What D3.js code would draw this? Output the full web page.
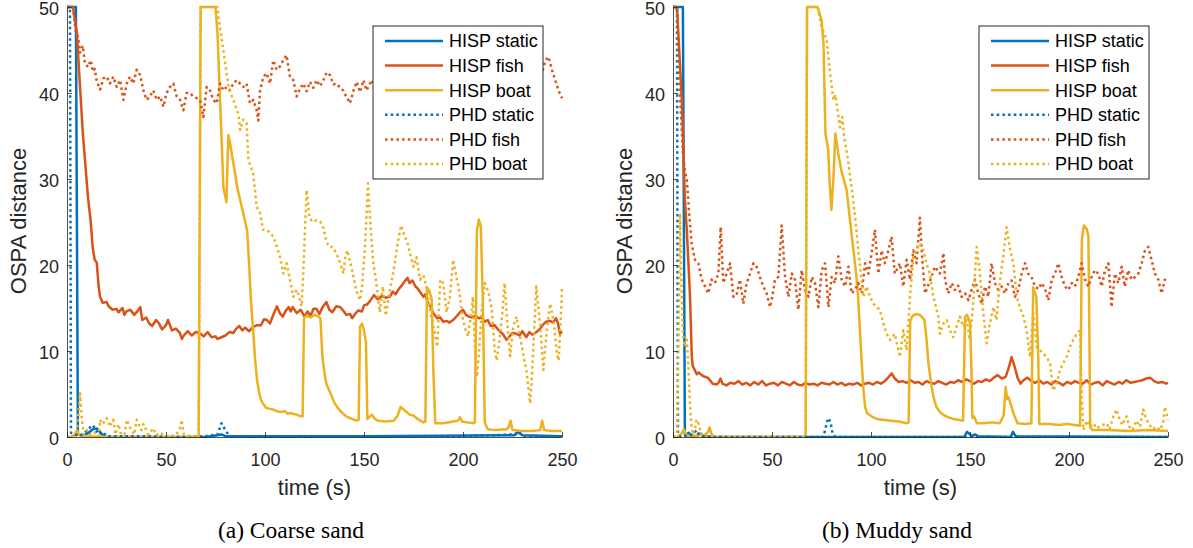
<!DOCTYPE html>
<html>
<head>
<meta charset="utf-8">
<script src="https://cdn.jsdelivr.net/npm/d3@7"></script>
<style>
  body { margin: 0; background: #fff; }
  svg { display: block; }
</style>
</head>
<body>
<script>
// values, each series is [time (s), OSPA distance]
const xTicks = [0, 50, 100, 150, 200, 250];
const yTicks = [0, 10, 20, 30, 40, 50];
const seriesNames = ['HISP static', 'HISP fish', 'HISP boat', 'PHD static', 'PHD fish', 'PHD boat'];
const panelCaptions = ['(a) Coarse sand', '(b) Muddy sand'];
const xLabel = 'time (s)';
const yLabel = 'OSPA distance';

// ---- (a) coarse sand ----
const coarseHispStatic = [[0,50],[4.5,50],[5.5,0.3],[8,0.1],[11,0.5],[13,0.9],[15,1.0],[17,0.5],[19,0],[60,0],[70,0],[76,0.2],[78,0.3],[80,0.1],[150,0.1],[226,0.2],[228,0.6],[230,0.2],[250,0.1]];
const coarseHispFish = [[0,50],[3,50],[5,47],[6.5,41],[8,35.3],[9.5,31],[10.6,27.9],[12,25],[13,22],[14,20.6],[15,20.3],[16,17.5],[16.7,16.3],[18,15.6],[20,15.7],[21,15.2],[23,14.8],[25,14.9],[26,14.5],[28,15.0],[29,14.2],[30,14.6],[32,14.8],[34,14.2],[35.5,14.6],[37,15.1],[38,13.6],[40,13.9],[41.5,13.2],[43,12.9],[45,13.6],[46.5,13.2],[48,12.5],[50,13.0],[51,13.6],[53,12.4],[55,12.6],[57,12.1],[58,11.4],[59,11.8],[61,12.3],[63,11.8],[65,12.2],[67,12.1],[69,11.7],[71,12.2],[73,11.6],[75,11.7],[76,11.4],[78,11.6],[80,11.8],[82,12.2],[84,12.1],[85.5,12.6],[87,12.9],[88.5,12.4],[90,12.7],[92,12.3],[94,12.8],[96,13.0],[98,13.0],[99.5,13.7],[101,13.6],[102.5,13.2],[104,14.1],[106,15.2],[107.5,14.4],[109,14.0],[110.5,14.7],[112,15.1],[113,14.6],[114,15.1],[116,14.4],[118,14.8],[120,14.0],[121.5,14.6],[123,14.1],[124.5,14.9],[126,14.9],[127.5,14.3],[129,15.1],[131,15.7],[132.5,14.8],[134,14.5],[136,15.2],[138,15.1],[139.5,14.7],[141,14.2],[143,14.3],[144,13.8],[145.5,14.3],[147,14.7],[149,14.6],[150,15.3],[151.5,15.4],[153,15.8],[155,16.5],[157,16.0],[159,16.4],[161,16.2],[163,16.3],[164.5,16.9],[166,16.6],[167.5,17.2],[169,17.6],[170.5,18.1],[172,18.5],[173,17.9],[174.5,18.2],[176,17.5],[177,17.3],[178.5,16.8],[180,16.3],[181,16.6],[182,15.7],[183.5,15.2],[185,14.4],[187,13.8],[188.5,13.9],[190,13.4],[192,13.5],[193,13.3],[195,13.6],[197,14.1],[198.5,14.5],[200,14.8],[201.5,14.2],[203,14.0],[204.5,13.9],[206,14.1],[208,13.8],[209.5,13.9],[211,13.4],[212.5,13.6],[214,12.9],[216,13.0],[218,12.4],[220,12.0],[222,11.3],[223.5,11.7],[225,12.1],[227,12.0],[228.5,11.8],[230,12.3],[232,11.6],[233.5,12.2],[235,11.9],[237,12.2],[239,12.6],[240.5,13.1],[242,13.4],[244,13.5],[245.5,13.3],[247,13.8],[248,13.2],[249,12.0],[250,12.3]];
const coarseHispBoat = [[0,0],[2,0],[4,0.3],[5,0.8],[6,0.2],[10,0.1],[20,0],[40,0],[60,0],[66.5,0],[67.5,50],[75,50],[76,47],[77,41],[78,35],[79,29],[80.5,27.3],[81.5,35.1],[82.5,34],[83.5,32.5],[85,30.5],[86,29],[88,27],[90,25],[91,24],[92,20],[93,15.5],[94,12.4],[95,9],[96,6.6],[97,5.2],[98,4.3],[99,3.9],[100.5,3.4],[102,3.3],[104,3.2],[106,3.0],[108,2.9],[110,3.0],[111.5,2.7],[113,2.8],[114,2.7],[116,2.6],[118,2.4],[119,2.4],[119.7,13.8],[121,14.1],[123,13.9],[125,14.2],[127,14.0],[128,13.8],[129,9.3],[130,7.5],[131,6.2],[133,5.1],[135,4.0],[137,3.3],[139,2.8],[141,2.4],[143,2.2],[146,1.9],[147.3,2.0],[148,12.8],[149,13.2],[150,12.4],[151,11],[151.7,2.1],[153,2.4],[154,2.6],[155.5,2.1],[157,1.9],[161,1.8],[165,1.9],[167,2.5],[168.5,3.5],[170,3.2],[171.5,2.9],[173,2.6],[175,2.5],[177,2.1],[180,1.7],[181,1.8],[181.8,17.4],[183,17],[184.2,16],[185,8],[186,1.6],[190,1.6],[195,1.8],[197.5,1.9],[198.5,2.3],[199.5,1.8],[202,1.7],[205,1.6],[206,1.7],[207,24],[208,25.3],[209,24.5],[210,16],[211,1.7],[212.5,0.9],[216,0.8],[222,0.9],[223,1.1],[224,1.9],[225,0.8],[230,0.7],[235,0.7],[239,0.8],[240,1.9],[241,0.8],[245,0.7],[250,0.7]];
const coarsePhdStatic = [[0,50],[1.5,50],[2,0.5],[4,0.3],[6,0.1],[9,0.5],[11,1],[13,1.4],[14.5,0.8],[16,0.3],[18,0.6],[20,0.1],[30,0.1],[40,0.1],[50,0],[60,0],[70,0.1],[76,0.3],[78,1.6],[80,0.8],[82,0.1],[100,0],[150,0.1],[200,0.1],[226,0.3],[228,0.6],[230,0.1],[250,0.1]];
const coarsePhdFish = [[0,50],[3,50],[4.5,47],[5.6,46.5],[6.6,44.7],[8,45.5],[9,43.5],[10.6,43],[12,43.8],[13,42.5],[14,42.8],[15,41.4],[16.7,40.4],[18.4,41.7],[20,41.9],[21.7,41.1],[23.4,41.9],[25.1,40.7],[26.8,41.5],[28.5,39.2],[30.2,41.1],[31.8,41.9],[33.5,41.1],[35.2,42.7],[36.9,42.1],[38.6,40.3],[40.2,39.2],[41.9,39.6],[43.6,40.3],[45.3,39.2],[47,39.6],[48.7,38.4],[50.3,40],[52,40.7],[53.7,41.1],[55.4,39.6],[57.1,39.2],[58.8,38],[60.4,40],[62.1,40],[63.8,39.6],[65.5,39.4],[67.2,39.2],[68.9,37.2],[70.5,40.7],[72.2,40.3],[73.9,39.2],[75.6,38.8],[77.3,41.1],[79,40.3],[80.6,40.7],[82.3,40.3],[84,41.1],[85.7,41.5],[87.4,41.1],[89.1,40.7],[90.7,41.1],[92.4,38.8],[94.1,39.2],[95.8,38],[96.6,36.8],[97.5,40.3],[99.2,41.9],[100.8,42.3],[102.5,41.1],[104.2,43.8],[105.9,42.7],[107.6,43.1],[109.2,43.8],[110.9,44.4],[112.6,41.9],[114.3,41.5],[116,39.6],[117.7,40.5],[119.4,41.1],[121,40.2],[122.7,41.3],[124.4,40.6],[126.1,41.5],[127.8,40.8],[129.5,41.5],[131.2,42.4],[132.8,42.1],[134.5,41],[136.2,41.1],[137.9,40.6],[139.5,40.3],[141.2,39.5],[142.9,38.8],[144.6,40.2],[146.3,41.3],[148,40.1],[149.7,41.5],[151.3,40.3],[153,41.1],[154,41.5],[156,40.2],[158,42],[160,40.6],[162,41.8],[164,39.9],[166,41.2],[168,42.4],[170,40.8],[172,41.6],[174,39.7],[176,41],[178,42.2],[180,40.4],[182,41.3],[184,39.5],[186,40.9],[188,42.1],[190,40.5],[192,41.7],[194,40],[196,41.4],[198,42.6],[200,40.7],[202,41.5],[204,39.8],[206,41.1],[208,42.3],[210,40.6],[212,41.9],[214,40.2],[216,41.4],[218,42.8],[220,41],[222,42],[224,40.3],[226,41.6],[228,43],[230,41.2],[232,42.4],[234,40.8],[236,42.1],[238,43.3],[239.8,42.2],[241.6,43.8],[243.2,44.2],[244.9,42.7],[246.6,41.5],[248.2,40.3],[250,39.4]];
const coarsePhdBoat = [[0,0],[3,0],[5,0.5],[6.6,5.1],[7.5,2],[8.5,0.3],[10,0.8],[12,0.2],[14,0.5],[16,0.1],[16.7,2],[18,1.5],[20,2.2],[21.7,1.2],[23.4,2],[24.5,0.3],[26,1.5],[27,0.5],[29,0.2],[30.2,2],[32,1],[34,0.3],[35.2,2],[37.5,0.8],[38.6,1.5],[41,0.3],[43.6,1],[45,0.2],[47,0.5],[50,0.1],[55,0.2],[57,1],[57.9,2],[59,0.3],[62,0.1],[66.5,0],[67.5,50],[76,50],[76.5,48.9],[79,44.9],[80.6,42.3],[82,40.3],[84,39.2],[86.5,37.6],[87.5,35.7],[89,36.9],[90.7,36.5],[91.6,32.2],[94,30.7],[95.8,26.8],[97.5,26],[99,24.1],[100.8,24.1],[102.6,23.7],[104.2,23.3],[106,22.1],[107.6,20.9],[109.2,19],[110.9,20.2],[112.6,18.3],[114.3,16.3],[116,17.1],[117,16.5],[118.5,15.2],[119.5,20],[121,28.7],[122.5,25.5],[124,25],[126,25.2],[128,25],[129.5,24.3],[131,22.7],[132.5,22.1],[134,22.1],[136,21.4],[138,20.2],[139.6,19],[140.5,20.9],[141.5,21.7],[144,19.4],[146,17.1],[148,15.9],[149,17.5],[150.5,22],[152,29.5],[153,25.6],[154.7,20.2],[156,18.3],[158,14.5],[159.5,17.5],[161,14.1],[163,17],[165,19.4],[167,22.5],[168.7,24.6],[170.6,23.3],[172,22.5],[173.2,21.4],[175,19.8],[176.5,20.9],[178.3,18.3],[180,18.8],[181.5,17.5],[183,15.2],[185,12.9],[187,10.5],[188.5,18.3],[190,17.9],[191.7,14.5],[193.4,16.3],[195,20.6],[196.7,18.6],[198.3,16.7],[200,13.6],[201.4,12.4],[202.6,11.7],[204.4,14.8],[205,16.3],[206,10.5],[207,7],[208,9.7],[209.4,14.5],[211,17.9],[213,16.7],[214.6,14.8],[216,10.1],[217,8.9],[218.6,11.6],[220,14.8],[221,17.9],[222.5,12.9],[223.8,9.4],[225.4,12.9],[227,14],[228.8,11.7],[230.6,9.4],[232,7.8],[233.9,3.9],[234.8,7],[236.4,14.5],[237,17.5],[239,12.9],[240.6,7.8],[242.3,12.4],[244,15.5],[245.7,13.6],[247.4,9.7],[248.3,8.9],[249.6,14.8],[250,17.5]];

// ---- (b) muddy sand ----
const muddyHispStatic = [[0,50],[5,50],[6,0.2],[8,0.5],[9,0.1],[12,0.1],[14,0.4],[15,0.1],[20,0],[147,0],[148.5,0.6],[149.5,0.4],[151,0.1],[152.5,0.3],[154,0.1],[170.5,0],[171.7,0.6],[173,0.1],[250,0]];
const muddyHispFish = [[0,50],[2,50],[4.5,39],[6,27.6],[7,24],[8.6,16.3],[9.5,9.3],[10,8.2],[11,7.8],[12,7.3],[13,7.5],[14.5,7.2],[16,7.0],[17.5,6.9],[19,6.5],[20,6.2],[22,6.1],[23,6.3],[24,6.8],[25,6.2],[27,6.0],[29,6.3],[31,6.2],[33,6.5],[35,6.1],[37,6.3],[39,6.0],[41,6.4],[43,6.1],[45,6.5],[47,6.0],[49,6.2],[51,6.3],[53,6.0],[55,6.4],[57,6.2],[59,6.0],[61,6.4],[63,6.1],[65,6.0],[67,6.3],[69,6.1],[71,6.2],[73,6.0],[75,6.3],[77,6.2],[79,6.1],[81,6.4],[83,6.1],[85,6.3],[87,6.0],[89,6.2],[91,6.1],[93,6.3],[95,6.0],[97,6.2],[99,6.3],[101,6.1],[103,6.4],[105,6.2],[107,6.5],[109,7.0],[110.5,7.4],[112,6.8],[114,6.4],[116,6.5],[118,6.3],[120,6.6],[122,6.3],[124,6.4],[126,6.1],[128,6.5],[130,6.3],[132,6.2],[134,6.5],[136,6.3],[138,6.1],[140,6.4],[142,6.3],[144,6.6],[146,6.4],[148,6.7],[150,6.5],[152,6.2],[154,6.5],[156,6.4],[158,6.7],[160,6.5],[162,6.9],[164,7.2],[166,6.8],[168,7.0],[169.5,8],[171,9.3],[172.5,8.2],[174,6.9],[175.5,6.2],[177,6.6],[179,6.9],[181,6.5],[183,6.3],[185,6.6],[187,6.2],[189,6.4],[191,6.1],[193,6.5],[195,6.3],[197,6.0],[199,6.4],[201,6.2],[203,6.5],[205,6.3],[207,6.2],[209,6.6],[211,6.1],[213,6.3],[215,6.4],[217,6.0],[219,6.5],[221,6.3],[223,6.1],[225,6.4],[227,6.2],[229,6.6],[231,6.3],[233,6.4],[235,6.5],[237,6.6],[239,6.8],[241,6.9],[243,6.5],[245,6.3],[247,6.4],[249,6.2],[250,6.3]];
const muddyHispBoat = [[0,0],[2,0],[4,0.3],[5.5,0.9],[6.5,0.3],[8,0.1],[10,0.2],[12,0.1],[14,0.3],[15,0.1],[17.5,0.5],[18.5,1.1],[19.5,0.3],[21,0],[67,0],[67.7,50],[73,50],[74,49.3],[75,48.5],[76,45.8],[77,35.3],[78.4,33.4],[79,30],[80,26.4],[81,30],[82,35.3],[83.5,32.9],[85,31],[87.7,28.7],[89,26],[91,22],[92.5,19],[93.5,16.3],[94.5,12],[95.3,8.6],[96.2,5.5],[97,3.5],[98,2.8],[99.7,2.5],[101,2.3],[103,2.1],[106,2.0],[110,1.9],[114,1.8],[118,1.6],[119,1.7],[119.8,13.5],[121,14.1],[123,14.3],[124.6,14.2],[126,13.9],[127,13.6],[128,11.5],[129,8.6],[130.5,6],[131.5,4.7],[133,3.5],[134.8,2.9],[137,2.5],[139,2.3],[141.5,2.1],[144,2.0],[146.5,1.9],[147.5,14],[148.5,14.2],[150,13.3],[150.7,8],[151.2,2.2],[152,2.4],[153.5,1.6],[157,1.6],[161,1.7],[165,1.6],[167,2.5],[168,5.8],[168.8,4.4],[169.5,4.6],[171,3.5],[172,2.7],[174,1.6],[178,1.5],[181,1.6],[181.9,17.4],[183.5,16.3],[184.5,9],[185,1.5],[190,1.5],[195,1.4],[199,1.5],[205.6,1.3],[206.5,23],[207.5,24.6],[209,24.2],[209.8,23.3],[210.3,12],[210.7,1.1],[212,0.8],[220,0.8],[230,0.7],[240,0.8],[250,0.7]];
const muddyPhdStatic = [[0,50],[2,50],[2.5,0.3],[4,0],[10,0.3],[12,0.8],[13,0.3],[15,0.1],[20,0],[76,0],[77,1.0],[78.3,2.2],[79.5,1.8],[80.5,0.5],[82,0],[250,0]];
const muddyPhdFish = [[0,50],[2,50],[3.5,40],[5,33],[6,31],[7,29.9],[8,26.5],[9.4,22.5],[11.1,20.6],[12.8,20.2],[14.5,18.3],[16.2,17.5],[17.8,16.7],[19.5,18.3],[21.2,17.9],[22.9,19],[24.1,24.4],[25.4,17.9],[27.1,19],[28.8,20.2],[30.5,16.3],[32.1,16.5],[33.8,18.3],[35.5,15.5],[37.2,17.9],[38.9,19],[40.6,20.2],[42.2,19.8],[43.9,18.6],[45.6,17.5],[47.3,16.7],[49,15.1],[50.3,16.5],[51.5,18.3],[53.2,18.6],[54.9,24.6],[56.6,18.6],[58.3,16.3],[60,19],[61.6,18.3],[63.3,14.8],[65,19.4],[66.7,17.1],[68.4,16.3],[70.1,18.6],[71.7,17.9],[73.4,15.1],[75.1,19.4],[76.8,20.2],[78.5,15.1],[80.1,18.6],[81.8,17.9],[83.5,21],[85.2,18.3],[86.9,17.5],[88.6,19.8],[90.2,16.7],[91.9,17.1],[93.6,17.9],[95.3,16.7],[97,20.2],[98.7,19],[100.3,21.4],[102,24.1],[103.7,19],[105.4,21.7],[107,20.2],[108.8,21.7],[110.4,23.3],[112,19],[114.6,20.2],[116.3,17.5],[118,20.6],[119.7,18.3],[121.4,21.7],[123,20.2],[124.7,25.5],[125.8,21],[127.3,16.7],[130,18.3],[132.3,19.8],[134.8,19],[136.6,21.4],[137.4,18.3],[139,16.7],[140.8,17.9],[142.4,17.1],[144,17.6],[145.8,16.3],[147.5,16.7],[149.2,15.9],[150.8,17.1],[152.5,18.3],[154.2,16.7],[155.9,15.5],[157.6,17.5],[159.2,16.3],[160.9,20.2],[162.6,17.9],[164.3,17.1],[166,17.5],[167.7,16.7],[169.4,17.9],[171,18.2],[172.7,16.3],[174.4,17.1],[176.1,19],[177.8,20.2],[179.4,19],[181.1,18.6],[182.8,17.5],[184.5,17.2],[186.2,17.9],[187.9,17.2],[189.6,15.9],[191.3,18.3],[192.9,19],[194.6,20.2],[196.3,18.6],[198,17.5],[199.7,17.1],[201.4,17.9],[203,17.5],[204.7,18.6],[206.4,20.2],[208.1,18.3],[209.8,17.5],[211.4,18.6],[213.1,19.4],[214.8,19],[216.5,17.5],[218.2,19.4],[219.9,20.2],[221.5,15.1],[223.2,19],[224.9,17.9],[226.6,19.8],[228.2,17.5],[229.9,19.4],[231.6,18.3],[233.3,18.6],[235,19],[236.7,20.2],[238.4,21.7],[240,22.1],[241.7,20.6],[243.4,19],[245.1,18.3],[246.8,16.7],[248.4,18.3],[249.7,17.9]];
const muddyPhdBoat = [[0,0],[2,0.5],[3,15],[3.5,26],[4,20],[5,12],[6,10.5],[7,11.3],[7.8,8],[8.5,4],[9.2,1.5],[10,0.3],[11,0.8],[11.9,2],[13,1.5],[14,0.5],[15,0.2],[16,0],[67,0],[67.7,50],[73,50],[75,47.7],[77.6,46.2],[79,43],[81,39.2],[82,39.8],[84.3,36],[85.5,37.2],[86.5,34.8],[88.4,32.2],[91,27.6],[92.8,23.7],[93.6,21.7],[96.1,16.3],[97.8,17.5],[99.5,16.3],[101.2,15.5],[102.9,15.1],[104.5,14.8],[106.2,13.2],[107.9,12],[109.6,11.3],[112,12],[113.8,10.1],[114.6,9.3],[116.3,12.4],[118,10.1],[119.7,16.3],[121.4,21],[123,21.7],[124.7,22.5],[126.4,21.7],[128,20.2],[129.7,19],[131.5,16.3],[134,14],[134.8,12],[136.6,13.2],[138.2,13.6],[139.9,12.4],[141.5,11.6],[143.2,12.8],[144.9,14],[146.6,12.8],[148.3,13.6],[149.9,11.3],[151.6,15.5],[153.4,22.1],[155,19],[156.7,14.4],[158.4,10.9],[160.1,13.2],[161.8,15.1],[163.4,13.6],[165,17.9],[166.8,21],[168.5,24.4],[170,22.1],[171.9,20.2],[173.6,16.3],[175.2,15.1],[177,14],[178.6,12.4],[180.3,9.3],[182,14.4],[183.7,10.5],[185.4,10.1],[187,9.7],[188.7,9.3],[190.4,8.6],[192,5.4],[193.8,6.2],[195.4,7.8],[197.1,8.6],[198.8,9.3],[200.5,10.5],[202.2,11.3],[203.9,12],[205.6,12.4],[206.4,4.7],[207.3,0.8],[209,1.9],[210.6,1.2],[212.3,1.6],[214,1.0],[216,1.3],[219,1.6],[220.5,0.9],[222.4,2.4],[224,3.2],[225.5,2.1],[227,1.4],[229,2.4],[230.5,1.2],[232,0.8],[234,1.9],[235.8,1.2],[237.5,3.2],[239,2.1],[240.6,1.4],[242.5,0.9],[244,1.2],[246,0.8],[247.5,1.6],[248.4,3.5],[250,2.0]];

const panelSeries = [
  [coarseHispStatic, coarseHispFish, coarseHispBoat, coarsePhdStatic, coarsePhdFish, coarsePhdBoat],
  [muddyHispStatic, muddyHispFish, muddyHispBoat, muddyPhdStatic, muddyPhdFish, muddyPhdBoat]
];

// styles (MATLAB default colour order)
const colors = ['#0072BD', '#D95319', '#EDB120', '#0072BD', '#D95319', '#EDB120'];
const dotted = [false, false, false, true, true, true];
const axisColor = '#262626';
const sansFont = '"Liberation Sans", Arial, Helvetica, sans-serif';
const serifFont = '"Liberation Serif", "Times New Roman", serif';

const width = 1193, height = 548;
const plotTop = 7, plotBottom = 437, plotWidth = 495;
const panelLeft = [67, 673];

const svg = d3.select('body').append('svg')
  .attr('width', width)
  .attr('height', height);

svg.append('rect').attr('width', width).attr('height', height).attr('fill', '#fff');

panelLeft.forEach((left, p) => {
  const x = d3.scaleLinear().domain([0, 250]).range([left, left + plotWidth]);
  const y = d3.scaleLinear().domain([0, 50]).range([plotBottom, plotTop]);
  const g = svg.append('g');

  g.append('clipPath').attr('id', 'clip' + p)
    .append('rect')
    .attr('x', left).attr('y', plotTop - 3)
    .attr('width', plotWidth + 2).attr('height', plotBottom - plotTop + 4);

  const line = d3.line().x(d => x(d[0])).y(d => y(d[1]));

  const lines = g.append('g').attr('clip-path', `url(#clip${p})`);
  panelSeries[p].forEach((data, i) => {
    lines.append('path')
      .datum(data)
      .attr('d', line)
      .attr('fill', 'none')
      .attr('stroke', colors[i])
      .attr('stroke-width', 2.5)
      .attr('stroke-linejoin', 'round')
      .attr('stroke-dasharray', dotted[i] ? '2.5,3.2' : null);
  });

  // axes, MATLAB style ticks pointing inwards
  const xAxis = g.append('g')
    .attr('transform', `translate(0,${plotBottom})`)
    .call(d3.axisBottom(x).tickValues(xTicks).tickSizeInner(-5).tickSizeOuter(0).tickPadding(16));
  const yAxis = g.append('g')
    .attr('transform', `translate(${left},0)`)
    .call(d3.axisLeft(y).tickValues(yTicks).tickSizeInner(-5).tickSizeOuter(0).tickPadding(8));
  yAxis.selectAll('text').attr('dy', '0.42em');

  [xAxis, yAxis].forEach(a => {
    a.selectAll('path, line').attr('stroke', axisColor).attr('stroke-width', 0.8);
    a.selectAll('text').attr('fill', axisColor)
      .style('font-family', sansFont).style('font-size', '18px');
  });

  g.append('text')
    .attr('x', left + plotWidth / 2).attr('y', 495)
    .attr('text-anchor', 'middle')
    .attr('fill', axisColor)
    .style('font-family', sansFont).style('font-size', '22px')
    .text(xLabel);

  g.append('text')
    .attr('transform', `translate(${left - 41},221) rotate(-90)`)
    .attr('text-anchor', 'middle')
    .attr('fill', axisColor)
    .style('font-family', sansFont).style('font-size', '22px')
    .text(yLabel);

  g.append('text')
    .attr('x', left + 224).attr('y', 538)
    .attr('text-anchor', 'middle')
    .attr('fill', '#000')
    .style('font-family', serifFont).style('font-size', '23.5px')
    .text(panelCaptions[p]);

  // legend
  const lg = g.append('g').attr('transform', `translate(${left + 306},26)`);
  lg.append('rect')
    .attr('width', 170).attr('height', 153)
    .attr('fill', '#fff')
    .attr('stroke', axisColor).attr('stroke-width', 1);
  seriesNames.forEach((name, i) => {
    const ry = 15 + i * 24.6;
    lg.append('line')
      .attr('x1', 12).attr('x2', 70)
      .attr('y1', ry).attr('y2', ry)
      .attr('stroke', colors[i])
      .attr('stroke-width', 2.5)
      .attr('stroke-dasharray', dotted[i] ? '2.5,3.2' : null);
    lg.append('text')
      .attr('x', 76).attr('y', ry)
      .attr('dy', '0.35em')
      .attr('fill', '#000')
      .style('font-family', sansFont).style('font-size', '18px')
      .text(name);
  });
});
</script>
</body>
</html>
